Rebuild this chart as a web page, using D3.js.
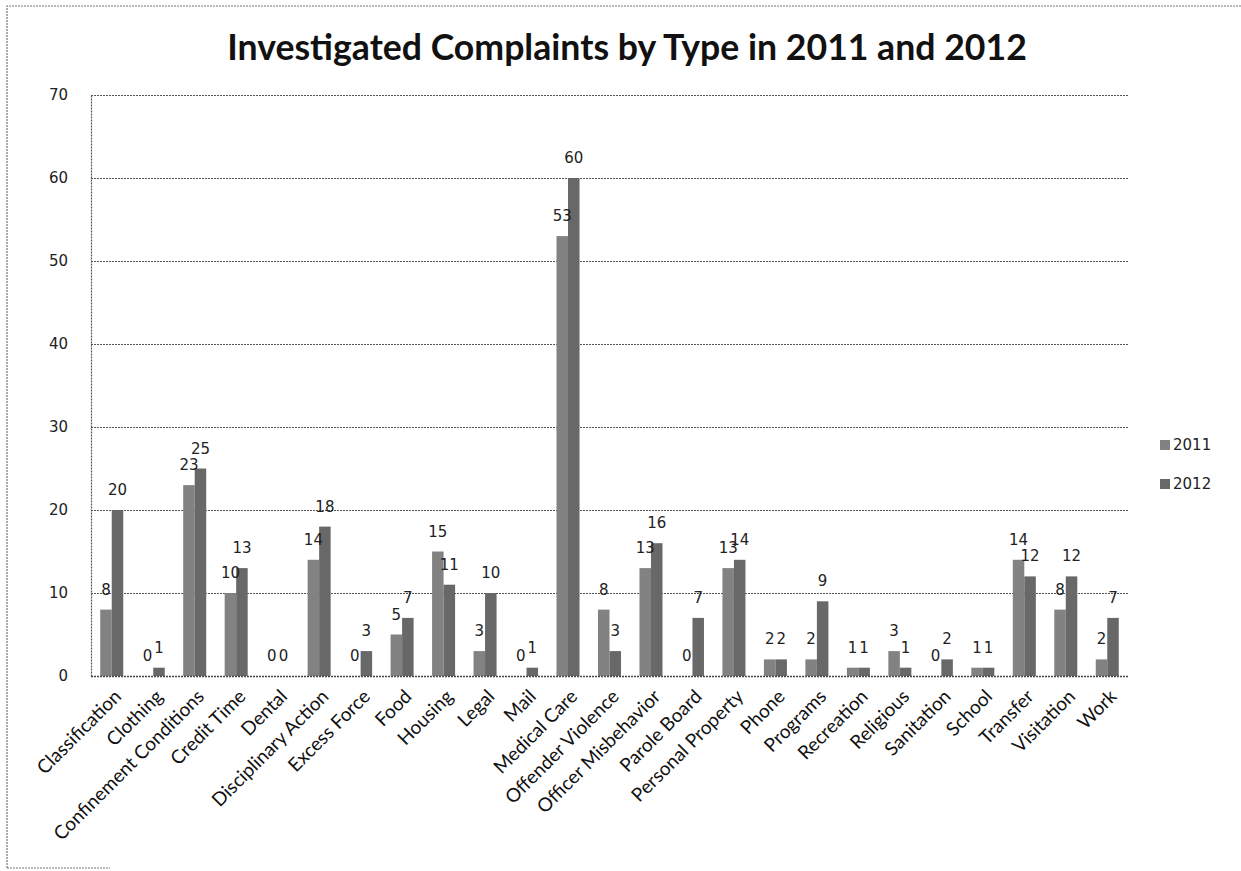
<!DOCTYPE html>
<html>
<head>
<meta charset="utf-8">
<script src="https://cdn.jsdelivr.net/npm/d3@7"></script>
<style>
  html, body { margin: 0; padding: 0; background: #fff; }
  svg { display: block; }
</style>
</head>
<body>
<svg id="chart" width="1241" height="871"></svg>
<script>
// Complaint categories and yearly counts
const categories = [
  "Classification", "Clothing", "Confinement Conditions", "Credit Time", "Dental",
  "Disciplinary Action", "Excess Force", "Food", "Housing", "Legal", "Mail",
  "Medical Care", "Offender Violence", "Officer Misbehavior", "Parole Board",
  "Personal Property", "Phone", "Programs", "Recreation", "Religious",
  "Sanitation", "School", "Transfer", "Visitation", "Work"
];
const seriesNames = ["2011", "2012"];
const values2011 = [8, 0, 23, 10, 0, 14, 0, 5, 15, 3, 0, 53, 8, 13, 0, 13, 2, 2, 1, 3, 0, 1, 14, 8, 2];
const values2012 = [20, 1, 25, 13, 0, 18, 3, 7, 11, 10, 1, 60, 3, 16, 7, 14, 2, 9, 1, 1, 2, 1, 12, 12, 7];
const yTicks = [0, 10, 20, 30, 40, 50, 60, 70];
const titleText = "Investigated Complaints by Type in 2011 and 2012";

const seriesValues = [values2011, values2012];
const colors = ["#828282", "#686868"];

const svg = d3.select("#chart");
const plot = { left: 91, right: 1128, top: 95, bottom: 676 };

// Outer frame (left, top and a short bottom run)
svg.append("path")
  .attr("d", `M7,868 L7,6 L1241,6 M7,868 L110,868`)
  .attr("fill", "none")
  .attr("stroke", "#777")
  .attr("stroke-width", 1.2)
  .attr("stroke-dasharray", "2,1");

// Title
const title = svg.append("text")
  .attr("x", 627)
  .attr("y", 60)
  .attr("text-anchor", "middle")
  .attr("font-family", "Lato, 'Open Sans', sans-serif")
  .attr("font-weight", "bold")
  .attr("font-size", 30)
  .attr("fill", "#111")
  .text(titleText);
{
  const target = 800;
  const len = title.node().getComputedTextLength();
  title.attr("font-size", 30 * target / len);
}

// Scales
const y = d3.scaleLinear().domain([0, 70]).range([plot.bottom, plot.top]);
const x0 = d3.scaleBand().domain(categories).range([plot.left, plot.right])
  .paddingInner(0.445).paddingOuter(0.2225);
const x1 = d3.scaleBand().domain(seriesNames).range([0, x0.bandwidth()]).padding(0);

// Gridlines
const grid = svg.append("g");
grid.selectAll("line")
  .data(yTicks)
  .join("line")
  .attr("x1", plot.left)
  .attr("x2", plot.right)
  .attr("y1", d => Math.round(y(d)) + 0.5)
  .attr("y2", d => Math.round(y(d)) + 0.5)
  .attr("stroke", "#555")
  .attr("stroke-width", 1.2)
  .attr("stroke-dasharray", "2,1");

// Y axis
const yAxis = d3.axisLeft(y).tickValues(yTicks).tickSize(0).tickPadding(23);
const yg = svg.append("g")
  .attr("transform", `translate(${plot.left},0)`)
  .call(yAxis);
yg.select(".domain").attr("stroke", "#555").attr("stroke-width", 1.2).attr("stroke-dasharray", "2,1");
yg.selectAll("text")
  .attr("font-family", "'DejaVu Sans', Verdana, sans-serif")
  .attr("font-size", 15)
  .attr("fill", "#222");

// Bars
const rows = categories.map((c, i) => ({ cat: c, vals: seriesNames.map((s, k) => ({ s, k, v: seriesValues[k][i] })) }));
const groups = svg.append("g").selectAll("g")
  .data(rows)
  .join("g")
  .attr("transform", d => `translate(${x0(d.cat)},0)`);

groups.selectAll("rect")
  .data(d => d.vals)
  .join("rect")
  .attr("x", d => x1(d.s))
  .attr("y", d => y(d.v))
  .attr("width", x1.bandwidth())
  .attr("height", d => y(0) - y(d.v))
  .attr("fill", d => colors[d.k]);

// Value labels above bars
groups.selectAll("text")
  .data(d => d.vals)
  .join("text")
  .attr("x", d => x1(d.s) + x1.bandwidth() / 2)
  .attr("y", d => y(d.v) - 15)
  .attr("text-anchor", "middle")
  .attr("font-family", "'DejaVu Sans', Verdana, sans-serif")
  .attr("font-size", 15)
  .attr("fill", "#222")
  .text(d => d.v);

// Bottom axis line
svg.append("line")
  .attr("x1", plot.left).attr("x2", plot.right)
  .attr("y1", plot.bottom + 0.5).attr("y2", plot.bottom + 0.5)
  .attr("stroke", "#444").attr("stroke-width", 1.3).attr("stroke-dasharray", "2,1");

// Category labels, rotated
const xAxis = d3.axisBottom(x0).tickSize(0).tickPadding(0);
const xg = svg.append("g")
  .attr("transform", `translate(0,${plot.bottom})`)
  .call(xAxis);
xg.select(".domain").remove();
xg.selectAll(".tick text")
  .attr("font-family", "Lato, 'Open Sans', sans-serif")
  .attr("font-size", 19)
  .attr("fill", "#111")
  .attr("text-anchor", "end")
  .attr("y", 0)
  .attr("dy", "0.72em")
  .attr("transform", "translate(1,12) rotate(-45)");

// Legend
const legend = svg.append("g").attr("transform", "translate(1160,0)");
const legendY = [445, 484];
seriesNames.forEach((s, k) => {
  legend.append("rect")
    .attr("x", 0).attr("y", legendY[k] - 5)
    .attr("width", 10).attr("height", 10)
    .attr("fill", colors[k]);
  legend.append("text")
    .attr("x", 13).attr("y", legendY[k])
    .attr("dy", "0.35em")
    .attr("font-family", "'DejaVu Sans', Verdana, sans-serif")
    .attr("font-size", 15)
    .attr("fill", "#222")
    .text(s);
});
</script>
</body>
</html>
